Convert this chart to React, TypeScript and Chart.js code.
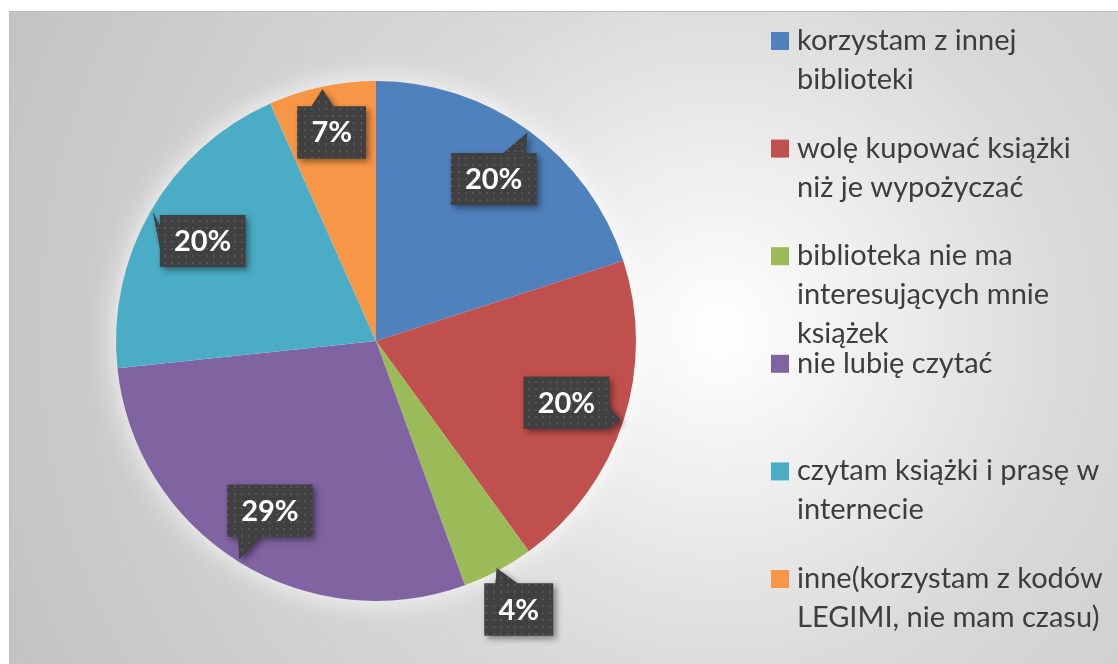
import React, { useEffect, useRef } from 'react';
import { Chart, registerables } from 'chart.js';

Chart.register(...registerables);

// ---- data ----
const categories: string[][] = [
  ['korzystam z innej', 'biblioteki'],
  ['wolę kupować książki', 'niż je wypożyczać'],
  ['biblioteka nie ma', 'interesujących mnie', 'książek'],
  ['nie lubię czytać'],
  ['czytam książki i prasę w', 'internecie'],
  ['inne(korzystam z kodów', 'LEGIMI, nie mam czasu)'],
];
const responses: number[] = [9, 9, 2, 13, 9, 3];
const sliceColors: string[] = ['#4F81BD', '#C0504D', '#9BBB59', '#8064A2', '#4BACC6', '#F79646'];

const W = 1118;
const H = 664;

const backgroundPlugin = {
  id: 'frameBackground',
  beforeDraw(chart: any) {
    const ctx = chart.ctx as CanvasRenderingContext2D;
    ctx.save();
    ctx.fillStyle = '#ffffff';
    ctx.fillRect(0, 0, W, H);
    const fx = 9, fy = 11;
    const g = ctx.createRadialGradient(720, 330, 0, 720, 330, 800);
    g.addColorStop(0, '#ffffff');
    g.addColorStop(0.1, '#f7f7f7');
    g.addColorStop(0.45, '#d9d9d9');
    g.addColorStop(1, '#c2c2c2');
    ctx.fillStyle = g;
    ctx.fillRect(fx, fy, W - fx, H - fy);
    ctx.strokeStyle = '#bdbdbd';
    ctx.lineWidth = 1;
    ctx.beginPath();
    ctx.moveTo(fx + 0.5, H);
    ctx.lineTo(fx + 0.5, fy + 0.5);
    ctx.lineTo(W, fy + 0.5);
    ctx.stroke();
    ctx.restore();
  },
};

const glowPlugin = {
  id: 'pieGlow',
  beforeDatasetsDraw(chart: any) {
    const meta = chart.getDatasetMeta(0);
    const arc = meta.data[0];
    if (!arc) return;
    const { x, y, outerRadius } = arc.getProps(['x', 'y', 'outerRadius'], true);
    const ctx = chart.ctx as CanvasRenderingContext2D;
    ctx.save();
    ctx.shadowColor = 'rgba(255,255,255,0.95)';
    ctx.shadowBlur = 30;
    ctx.fillStyle = '#ffffff';
    ctx.beginPath();
    ctx.arc(x, y, outerRadius - 1, 0, Math.PI * 2);
    ctx.fill();
    ctx.restore();
  },
};

let dotPattern: CanvasPattern | null = null;
function getPattern(ctx: CanvasRenderingContext2D) {
  if (dotPattern) return dotPattern;
  const c = document.createElement('canvas');
  c.width = 7;
  c.height = 7;
  const p = c.getContext('2d')!;
  p.fillStyle = '#404040';
  p.fillRect(0, 0, 7, 7);
  p.fillStyle = 'rgba(255,255,255,0.11)';
  p.fillRect(3, 3, 2, 2);
  dotPattern = ctx.createPattern(c, 'repeat');
  return dotPattern;
}

const calloutPlugin = {
  id: 'calloutLabels',
  afterDatasetsDraw(chart: any) {
    const ctx = chart.ctx as CanvasRenderingContext2D;
    const meta = chart.getDatasetMeta(0);
    const values: number[] = chart.data.datasets[0].data;
    const total = values.reduce((a, b) => a + b, 0);
    meta.data.forEach((arc: any, i: number) => {
      const { x, y, startAngle, endAngle, outerRadius } = arc.getProps(
        ['x', 'y', 'startAngle', 'endAngle', 'outerRadius'],
        true
      );
      const frac = values[i] / total;
      const mid = (startAngle + endAngle) / 2;
      const lr = frac < 0.05 ? outerRadius * 1.17 : frac < 0.1 ? outerRadius * 0.82 : outerRadius * 0.77;
      const cx = x + Math.cos(mid) * lr;
      const cy = y + Math.sin(mid) * lr;
      const tx = x + Math.cos(mid) * outerRadius * 0.99;
      const ty = y + Math.sin(mid) * outerRadius * 0.99;
      const text = Math.round(frac * 100) + '%';
      ctx.save();
      ctx.font = 'bold 29px Lato';
      const tw = ctx.measureText(text).width;
      const bw = tw + 28;
      const bh = 52;
      const l = cx - bw / 2, r = cx + bw / 2, t = cy - bh / 2, b = cy + bh / 2;
      const clamp = (v: number, a: number, c: number) => Math.max(a, Math.min(c, v));
      const dx = tx - clamp(tx, l, r);
      const dy = ty - clamp(ty, t, b);
      const half = 11;
      ctx.beginPath();
      ctx.moveTo(l, t);
      if (Math.abs(dy) >= Math.abs(dx) && dy < 0) {
        const bx = clamp(tx, l + 22, r - 22);
        ctx.lineTo(bx - half, t);
        ctx.lineTo(tx, ty);
        ctx.lineTo(bx + half, t);
      }
      ctx.lineTo(r, t);
      if (Math.abs(dx) > Math.abs(dy) && dx > 0) {
        const by = clamp(ty, t + 22, b - 12);
        ctx.lineTo(r, by - half);
        ctx.lineTo(tx, ty);
        ctx.lineTo(r, by + half);
      }
      ctx.lineTo(r, b);
      if (Math.abs(dy) >= Math.abs(dx) && dy > 0) {
        const bx = clamp(tx, l + 22, r - 22);
        ctx.lineTo(bx + half, b);
        ctx.lineTo(tx, ty);
        ctx.lineTo(bx - half, b);
      }
      ctx.lineTo(l, b);
      if (Math.abs(dx) > Math.abs(dy) && dx < 0) {
        const by = clamp(ty, t + 22, b - 22);
        ctx.lineTo(l, by + half);
        ctx.lineTo(tx, ty);
        ctx.lineTo(l, by - half);
      }
      ctx.closePath();
      ctx.shadowColor = 'rgba(0,0,0,0.45)';
      ctx.shadowBlur = 6;
      ctx.shadowOffsetX = 3;
      ctx.shadowOffsetY = 3;
      ctx.fillStyle = '#404040';
      ctx.fill();
      ctx.shadowColor = 'transparent';
      ctx.fillStyle = getPattern(ctx) || '#404040';
      ctx.fill();
      ctx.fillStyle = '#ffffff';
      ctx.textAlign = 'center';
      ctx.textBaseline = 'alphabetic';
      ctx.fillText(text, cx, cy + 10);
      ctx.restore();
    });
  },
};

const legendPlugin = {
  id: 'sideLegend',
  afterDraw(chart: any) {
    const ctx = chart.ctx as CanvasRenderingContext2D;
    const labels: string[][] = chart.data.labels;
    const colors: string[] = chart.data.datasets[0].backgroundColor;
    ctx.save();
    ctx.font = '29px Lato';
    ctx.textAlign = 'left';
    ctx.textBaseline = 'alphabetic';
    labels.forEach((lines, i) => {
      const yc = 41 + i * 107.6;
      ctx.fillStyle = colors[i];
      ctx.fillRect(771, yc - 9, 18, 18);
      ctx.fillStyle = '#3d3d3d';
      lines.forEach((ln, j) => {
        ctx.fillText(ln, 797, yc + 9 + j * 39);
      });
    });
    ctx.restore();
  },
};

export default function App() {
  const ref = useRef<HTMLCanvasElement | null>(null);
  useEffect(() => {
    if (!ref.current) return;
    const chart = new Chart(ref.current, {
      type: 'pie',
      data: {
        labels: categories as any,
        datasets: [
          {
            data: responses,
            backgroundColor: sliceColors,
            borderWidth: 0,
          },
        ],
      },
      options: {
        responsive: false,
        animation: false,
        devicePixelRatio: 1,
        layout: { padding: { left: 116, right: W - 636, top: 81, bottom: H - 601 } },
        plugins: {
          legend: { display: false },
          tooltip: { enabled: false },
        },
      },
      plugins: [backgroundPlugin, glowPlugin, calloutPlugin, legendPlugin],
    });
    return () => chart.destroy();
  }, []);
  return (
    <div style={{ position: 'fixed', left: 0, top: 0, width: W, height: H, background: '#fff' }}>
      <canvas ref={ref} width={W} height={H} style={{ display: 'block', width: W, height: H }} />
    </div>
  );
}
